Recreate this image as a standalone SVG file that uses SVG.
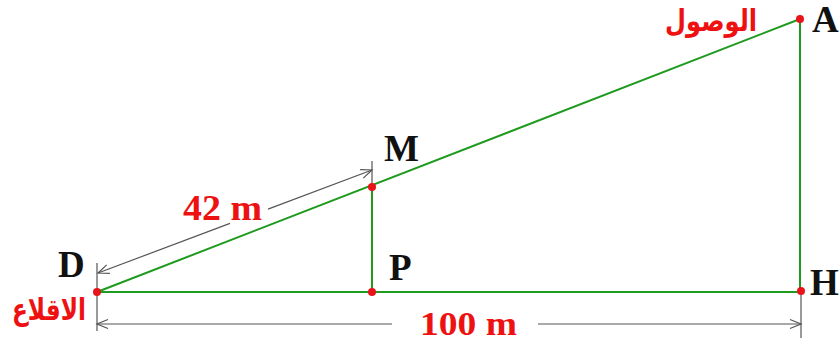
<svg xmlns="http://www.w3.org/2000/svg" width="840" height="342" viewBox="0 0 840 342">
<style>
.g{stroke:#1e9a1e;stroke-width:2;fill:none}
.d{stroke:#555;stroke-width:1.2;fill:none}
.dot{fill:#e8141a}
.lbl{font-family:"Liberation Serif","Times New Roman",serif;font-weight:bold;fill:#111;font-size:37px}
.num{font-family:"Liberation Serif","Times New Roman",serif;font-weight:bold;fill:#ee1111}
.ar{font-family:"DejaVu Sans",sans-serif;font-weight:bold;fill:#ee1111;font-size:30px}
</style>
<defs>
<marker id="arr" markerUnits="userSpaceOnUse" markerWidth="14" markerHeight="12" refX="12" refY="6" orient="auto-start-reverse" viewBox="0 0 14 12">
<path d="M1 1.5 L12 6 L1 10.5" fill="none" stroke="#555" stroke-width="1.2"/>
</marker>
</defs>
<rect width="840" height="342" fill="#fff"/>
<g id="connectors">
<line class="g" x1="97" y1="292" x2="800" y2="19"/>
<line class="g" x1="97" y1="292" x2="801" y2="292"/>
<line class="g" x1="372" y1="187" x2="372" y2="292"/>
<line class="g" x1="800" y1="19" x2="800" y2="291"/>
<line class="d" x1="97" y1="263" x2="97" y2="331"/>
<line class="d" x1="372" y1="161" x2="372" y2="186"/>
<line class="d" x1="801" y1="293" x2="801" y2="338"/>
<line class="d" x1="98" y1="273" x2="230" y2="223.4" marker-start="url(#arr)"/>
<line class="d" x1="268" y1="209.1" x2="372" y2="170" marker-end="url(#arr)"/>
<line class="d" x1="97" y1="324" x2="392" y2="324" marker-start="url(#arr)"/>
<line class="d" x1="538" y1="324" x2="801" y2="324" marker-end="url(#arr)"/>
</g>
<g id="D"><circle class="dot" cx="97" cy="292" r="4"/><text class="lbl" x="58" y="277">D</text><text class="ar" x="86" y="320" text-anchor="end" textLength="74" lengthAdjust="spacingAndGlyphs">الاقلاع</text></g>
<g id="P"><circle class="dot" cx="372" cy="292" r="4"/><text class="lbl" x="389" y="280">P</text></g>
<g id="M"><circle class="dot" cx="372" cy="187" r="4"/><text class="lbl" x="384" y="161">M</text></g>
<g id="A"><circle class="dot" cx="800" cy="19" r="4"/><text class="lbl" x="812" y="32" font-size="34">A</text><text class="ar" x="757" y="31" text-anchor="end" textLength="92" lengthAdjust="spacingAndGlyphs">الوصول</text></g>
<g id="H"><circle class="dot" cx="801" cy="291" r="4"/><text class="lbl" x="810" y="295">H</text></g>
<g id="labels">
<text class="num" x="183" y="220" font-size="36" textLength="79" lengthAdjust="spacingAndGlyphs">42 m</text>
<text class="num" x="420" y="335" font-size="33" textLength="97" lengthAdjust="spacingAndGlyphs">100 m</text>
</g>
</svg>
